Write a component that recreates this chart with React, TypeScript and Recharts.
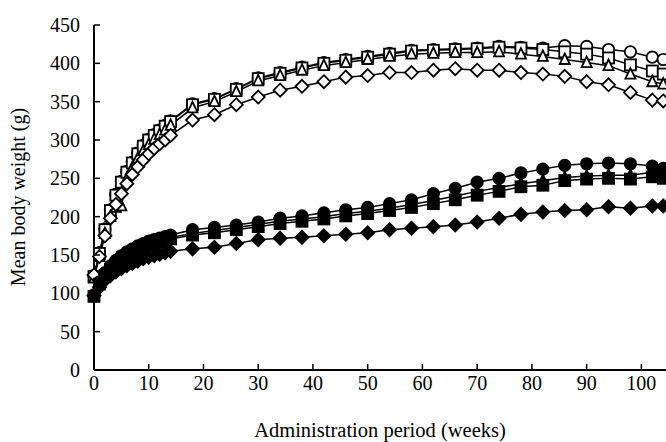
import { LineChart, Line, XAxis, YAxis, Label } from "recharts";

const weeks = [0, 1, 2, 3, 4, 5, 6, 7, 8, 9, 10, 11, 12, 13, 14, 18, 22, 26, 30, 34, 38, 42, 46, 50, 54, 58, 62, 66, 70, 74, 78, 82, 86, 90, 94, 98, 102, 104];

// males (open markers)
const maleCircle = [123, 153, 184, 209, 229, 246, 259, 271, 283, 293, 301, 307, 313, 319, 325, 347, 354, 367, 381, 388, 395, 401, 405, 409, 413, 417, 418, 419, 420, 422, 421, 420, 423, 422, 418, 415, 408, 405];
const maleSquare = [122, 152, 183, 208, 228, 245, 258, 270, 282, 292, 300, 306, 312, 318, 324, 346, 353, 366, 380, 387, 394, 400, 404, 408, 412, 416, 417, 418, 419, 421, 420, 418, 415, 412, 407, 398, 390, 386];
const maleTriangle = [120, 148, 178, 200, 212, 214, 250, 264, 276, 286, 294, 301, 307, 313, 319, 342, 350, 363, 377, 384, 391, 397, 401, 405, 409, 412, 413, 414, 414, 415, 412, 409, 405, 401, 397, 386, 376, 373];
const maleDiamond = [124, 148, 175, 198, 216, 230, 243, 255, 265, 274, 282, 289, 295, 300, 306, 326, 333, 346, 356, 365, 370, 376, 382, 384, 388, 388, 391, 393, 391, 391, 388, 386, 383, 376, 372, 362, 352, 351];

// females (filled markers)
const femaleCircle = [98, 115, 127, 136, 143, 149, 154, 158, 162, 165, 168, 170, 172, 174, 176, 183, 186, 189, 193, 198, 201, 205, 209, 212, 217, 222, 230, 237, 245, 250, 257, 262, 267, 269, 270, 269, 266, 263];
const femaleSquare = [96, 112, 123, 131, 138, 144, 149, 153, 157, 160, 163, 165, 167, 169, 171, 176, 179, 183, 187, 191, 194, 197, 201, 204, 208, 212, 217, 222, 228, 233, 239, 241, 247, 249, 250, 249, 252, 250];
const femaleTriangle = [97, 113, 125, 133, 140, 146, 151, 155, 159, 162, 165, 167, 169, 171, 173, 178, 182, 186, 190, 194, 197, 200, 204, 207, 211, 216, 221, 227, 233, 238, 243, 247, 251, 253, 254, 254, 258, 256];
const femaleDiamond = [97, 108, 117, 123, 128, 132, 136, 139, 142, 145, 147, 149, 151, 153, 155, 158, 160, 165, 170, 172, 173, 175, 177, 179, 183, 185, 187, 189, 193, 198, 203, 206, 208, 209, 213, 211, 214, 214];

const xTicks = [0, 10, 20, 30, 40, 50, 60, 70, 80, 90, 100];
const yTicks = [0, 50, 100, 150, 200, 250, 300, 350, 400, 450];

const data = weeks.map((w, i) => ({
  week: w,
  mc: maleCircle[i],
  ms: maleSquare[i],
  mt: maleTriangle[i],
  md: maleDiamond[i],
  fc: femaleCircle[i],
  fs: femaleSquare[i],
  ft: femaleTriangle[i],
  fd: femaleDiamond[i],
}));

const FONT = '"Liberation Serif", "Times New Roman", serif';

type Shape = "circle" | "square" | "triangle" | "diamond";

function marker(shape: Shape, filled: boolean) {
  const fill = filled ? "#000" : "#fff";
  return (props: any) => {
    const { cx, cy, index } = props;
    if (cx == null || cy == null) return <g key={index} />;
    const common = { fill, stroke: "#000", strokeWidth: 1.8 };
    if (shape === "circle") return <circle key={index} cx={cx} cy={cy} r={5.7} {...common} />;
    if (shape === "square") return <rect key={index} x={cx - 5.5} y={cy - 5.5} width={11} height={11} {...common} />;
    if (shape === "triangle")
      return <polygon key={index} points={`${cx},${cy - 6} ${cx + 5},${cy + 4.5} ${cx - 5},${cy + 4.5}`} {...common} />;
    return <polygon key={index} points={`${cx},${cy - 6.5} ${cx + 6.5},${cy} ${cx},${cy + 6.5} ${cx - 6.5},${cy}`} {...common} />;
  };
}

const XTick = ({ x, y, payload }: any) => (
  <g>
    <line x1={x} x2={x} y1={y} y2={y - 6} stroke="#000" strokeWidth={1.5} />
    <text x={x} y={y + 20} textAnchor="middle" fontSize={20} fontFamily={FONT} fill="#000">
      {payload.value}
    </text>
  </g>
);

const YTick = ({ x, y, payload }: any) => (
  <g>
    <line x1={x} x2={x + 6} y1={y} y2={y} stroke="#000" strokeWidth={1.5} />
    <text x={x - 14} y={y} dy="0.35em" textAnchor="end" fontSize={20} fontFamily={FONT} fill="#000">
      {payload.value}
    </text>
  </g>
);

const series: { key: string; shape: Shape; filled: boolean }[] = [
  { key: "mc", shape: "circle", filled: false },
  { key: "ms", shape: "square", filled: false },
  { key: "mt", shape: "triangle", filled: false },
  { key: "md", shape: "diamond", filled: false },
  { key: "fc", shape: "circle", filled: true },
  { key: "fs", shape: "square", filled: true },
  { key: "ft", shape: "triangle", filled: true },
  { key: "fd", shape: "diamond", filled: true },
];

export default function App() {
  return (
    <div style={{ position: "absolute", left: 0, top: 0, background: "#fff" }}>
      <LineChart width={666} height={442} data={data} margin={{ top: 25, right: 0, bottom: 0, left: 0 }}>
        <XAxis
          dataKey="week"
          type="number"
          domain={[0, 104.5]}
          ticks={xTicks}
          height={72}
          tickSize={0}
          tickMargin={0}
          tickLine={false}
          tick={<XTick />}
          axisLine={{ stroke: "#000", strokeWidth: 2 }}
        >
          <Label
            value="Administration period (weeks)"
            position="insideBottom"
            offset={5}
            style={{ fontFamily: FONT, fontSize: 20.5, fill: "#000" }}
          />
        </XAxis>
        <YAxis
          type="number"
          domain={[0, 450]}
          ticks={yTicks}
          width={94}
          tickSize={0}
          tickMargin={0}
          tickLine={false}
          tick={<YTick />}
          axisLine={{ stroke: "#000", strokeWidth: 2 }}
        >
          <Label
            content={() => (
              <text
                x={18}
                y={197}
                transform="rotate(-90 18 197)"
                textAnchor="middle"
                dominantBaseline="central"
                fontFamily={FONT}
                fontSize={20}
                fill="#000"
              >
                Mean body weight (g)
              </text>
            )}
          />
        </YAxis>
        {series.map((s) => (
          <Line
            key={s.key}
            dataKey={s.key}
            type="linear"
            stroke="#000"
            strokeWidth={1.5}
            dot={marker(s.shape, s.filled)}
            activeDot={false}
            isAnimationActive={false}
          />
        ))}
      </LineChart>
    </div>
  );
}
